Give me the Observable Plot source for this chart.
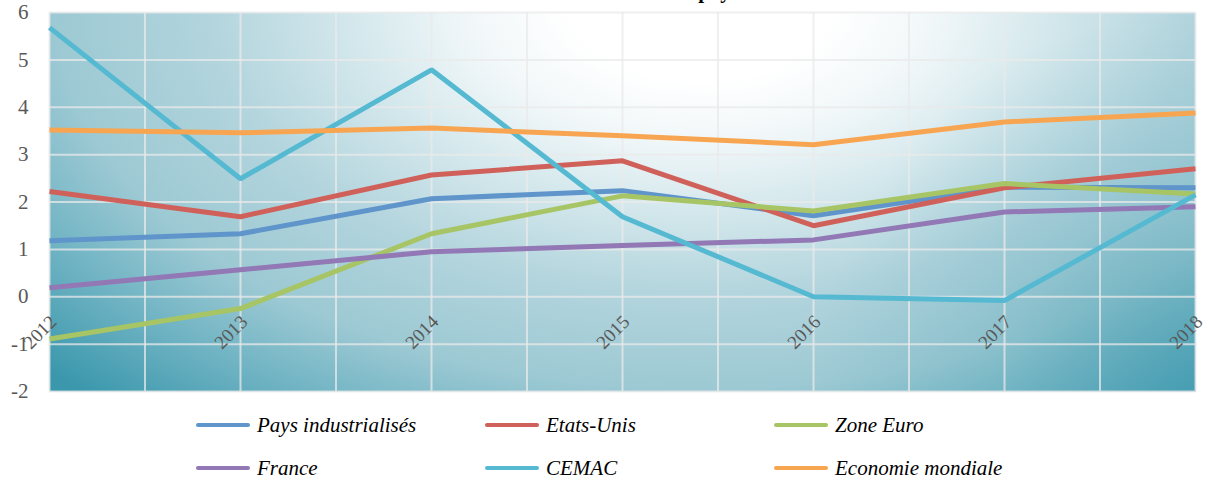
<!DOCTYPE html>
<html>
<head>
<meta charset="utf-8">
<script src="https://cdn.jsdelivr.net/npm/d3@7"></script>
<script src="https://cdn.jsdelivr.net/npm/@observablehq/plot@0.6"></script>
<style>
  html, body { margin: 0; padding: 0; background: #ffffff; }
  #wrap { position: relative; width: 1208px; height: 481px; overflow: hidden; font-family: "Liberation Serif", "Times New Roman", serif; }
  #title { position: absolute; top: -21px; right: 469px; white-space: nowrap; font-weight: bold; font-size: 21px; color: #000; font-family: "Liberation Serif", "Times New Roman", serif; }
  #chart { position: absolute; top: 0; left: 0; }
  #chart svg text { font-family: "Liberation Serif", "Times New Roman", serif; }
  #legend { position: absolute; left: 196px; top: 404px; display: grid; grid-template-columns: 289px 289px 289px; grid-auto-rows: 43px; }
  .item { display: flex; align-items: center; height: 42px; }
  .sw { width: 54px; height: 4px; border-radius: 2px; margin-right: 7px; }
  .lab { font-style: italic; font-size: 21px; color: #000; }
</style>
</head>
<body>
<div id="wrap">
  <div id="title">Evolution du taux de croissance des pays</div>
  <div id="chart"></div>
  <div id="legend"></div>
</div>
<script>
// Annual growth rates (%) by zone, 2012–2018
const years = [2012, 2013, 2014, 2015, 2016, 2017, 2018];
const seriesNames = ["Pays industrialisés", "Etats-Unis", "Zone Euro", "France", "CEMAC", "Economie mondiale"];
const paysIndustrialises = [1.18, 1.33, 2.07, 2.24, 1.71, 2.31, 2.30];
const etatsUnis = [2.22, 1.69, 2.57, 2.87, 1.50, 2.30, 2.70];
const zoneEuro = [-0.89, -0.25, 1.33, 2.13, 1.81, 2.39, 2.17];
const france = [0.19, 0.57, 0.95, 1.08, 1.20, 1.79, 1.90];
const cemac = [5.68, 2.49, 4.79, 1.69, 0.00, -0.08, 2.15];
const economieMondiale = [3.52, 3.46, 3.56, 3.40, 3.21, 3.69, 3.88];
const seriesColors = ["#5f95cb", "#d0615a", "#a7c565", "#9278b5", "#55b9d1", "#f8a552"];
const yTicks = [-2, -1, 0, 1, 2, 3, 4, 5, 6];
const xGridTicks = [2012, 2012.5, 2013, 2013.5, 2014, 2014.5, 2015, 2015.5, 2016, 2016.5, 2017, 2017.5, 2018];

const allValues = [paysIndustrialises, etatsUnis, zoneEuro, france, cemac, economieMondiale];
const rows = [];
seriesNames.forEach((name, i) => {
  years.forEach((yr, j) => rows.push({series: name, year: yr, value: allValues[i][j]}));
});

const serif = '"Liberation Serif", "Times New Roman", serif';

const chart = Plot.plot({
  width: 1208,
  height: 400,
  marginLeft: 49,
  marginRight: 13,
  marginTop: 12,
  marginBottom: 9,
  style: {fontFamily: serif, background: "transparent", overflow: "visible"},
  x: {type: "linear", domain: [2012, 2018], axis: null},
  y: {domain: [-2, 6], label: null},
  color: {domain: seriesNames, range: seriesColors},
  marks: [
    Plot.frame({fill: "url(#plotbg)"}),
    Plot.frame({fill: "url(#plotshade)"}),
    Plot.gridX(xGridTicks, {stroke: "#e9e9e9", strokeOpacity: 0.75, strokeWidth: 2}),
    Plot.gridY(yTicks, {stroke: "#e9e9e9", strokeOpacity: 0.75, strokeWidth: 2}),
    Plot.axisY(yTicks, {label: null, tickSize: 0, tickPadding: 21, fontSize: 21, color: "#595959", tickFormat: d => d < 0 ? "-" + Math.abs(d) : String(d)}),
    Plot.line(rows, {x: "year", y: "value", z: "series", stroke: "series", strokeWidth: 5, strokeLinejoin: "miter", strokeLinecap: "butt"}),
    Plot.text(years, {x: d => d, y: 0, text: d => String(d), rotate: -45, textAnchor: "end", dx: 4, dy: 22, fontSize: 19, fill: "#595959", fontFamily: serif})
  ]
});

// Soft radial background for the plotting area, darker toward the lower corners
const ns = "http://www.w3.org/2000/svg";
const defs = document.createElementNS(ns, "defs");
defs.innerHTML = `
  <radialGradient id="plotbg" gradientUnits="userSpaceOnUse" cx="700" cy="0" r="900"
      gradientTransform="translate(700 0) scale(1 0.6) translate(-700 0)">
    <stop offset="0" stop-color="#ffffff"/>
    <stop offset="0.15" stop-color="#ffffff"/>
    <stop offset="0.26" stop-color="#f1f7f9"/>
    <stop offset="0.37" stop-color="#d8eaee"/>
    <stop offset="0.55" stop-color="#b2d4dd"/>
    <stop offset="0.72" stop-color="#9cc9d3"/>
    <stop offset="0.85" stop-color="#6fb3c3"/>
    <stop offset="1" stop-color="#3a97ac"/>
  </radialGradient>
  <radialGradient id="plotshade" gradientUnits="userSpaceOnUse" cx="1195" cy="391" r="380">
    <stop offset="0" stop-color="#3a97ac" stop-opacity="0.6"/>
    <stop offset="0.5" stop-color="#3a97ac" stop-opacity="0.2"/>
    <stop offset="1" stop-color="#3a97ac" stop-opacity="0"/>
  </radialGradient>`;
chart.insertBefore(defs, chart.firstChild);
document.getElementById("chart").appendChild(chart);

// Legend: three columns, two rows
const legend = document.getElementById("legend");
seriesNames.forEach((name, i) => {
  const item = document.createElement("div");
  item.className = "item";
  const sw = document.createElement("div");
  sw.className = "sw";
  sw.style.background = seriesColors[i];
  const lab = document.createElement("span");
  lab.className = "lab";
  lab.textContent = name;
  item.appendChild(sw);
  item.appendChild(lab);
  legend.appendChild(item);
});
</script>
</body>
</html>
